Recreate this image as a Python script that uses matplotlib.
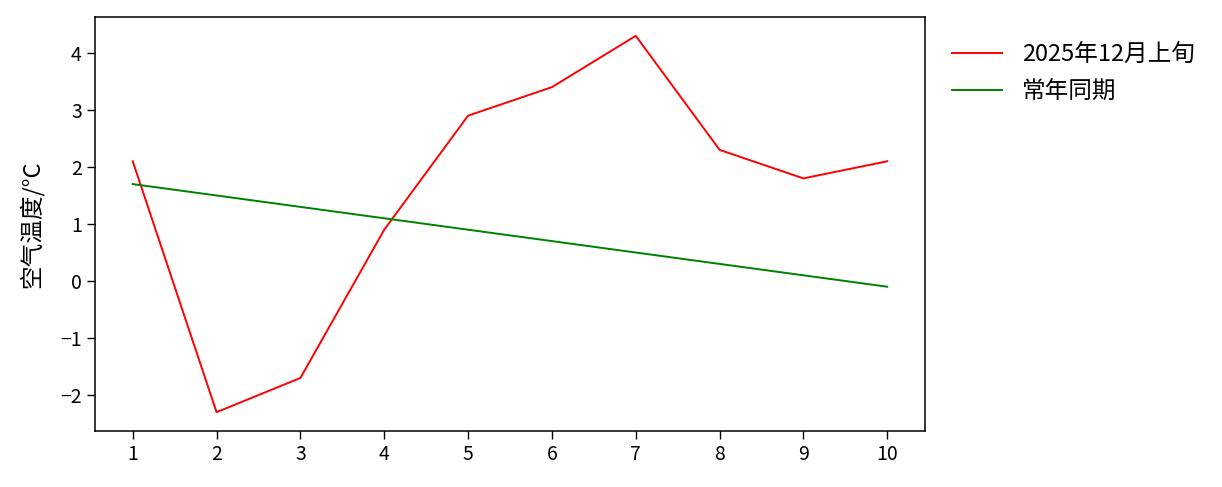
import matplotlib
matplotlib.use("Agg")
import matplotlib.pyplot as plt

plt.rcParams['font.family'] = ['Noto Sans CJK SC', 'DejaVu Sans']
plt.rcParams['axes.unicode_minus'] = True

days = [1, 2, 3, 4, 5, 6, 7, 8, 9, 10]
temp_2025 = [2.1, -2.3, -1.7, 0.9, 2.9, 3.4, 4.3, 2.3, 1.8, 2.1]
temp_normal = [1.7, 1.5, 1.3, 1.1, 0.9, 0.7, 0.5, 0.3, 0.1, -0.1]
label_2025 = "2025年12月上旬"
label_normal = "常年同期"
ylabel = "空气温度/°C"

fig = plt.figure(figsize=(12.22, 4.87), dpi=100)
ax = fig.add_axes([95/1222, 1-431/487, (925-95)/1222, (431-17)/487])
ax.plot(days, temp_2025, color='red', lw=1.4, label=label_2025)
ax.plot(days, temp_normal, color='green', lw=1.4, label=label_normal)
ax.set_xticks(days)
ax.set_yticks([-2, -1, 0, 1, 2, 3, 4])
ax.tick_params(labelsize=14, length=6, width=1)
for s in ax.spines.values():
    s.set_linewidth(1.1)
ax.set_ylabel(ylabel, fontsize=17, labelpad=12)
ax.legend(loc='upper left', bbox_to_anchor=(1.0 + 6/830, 1.0 - 5/414), frameon=False,
          fontsize=17, handlelength=2.1, handletextpad=0.85, labelspacing=0.6)
fig.savefig("out.png", dpi=100)
